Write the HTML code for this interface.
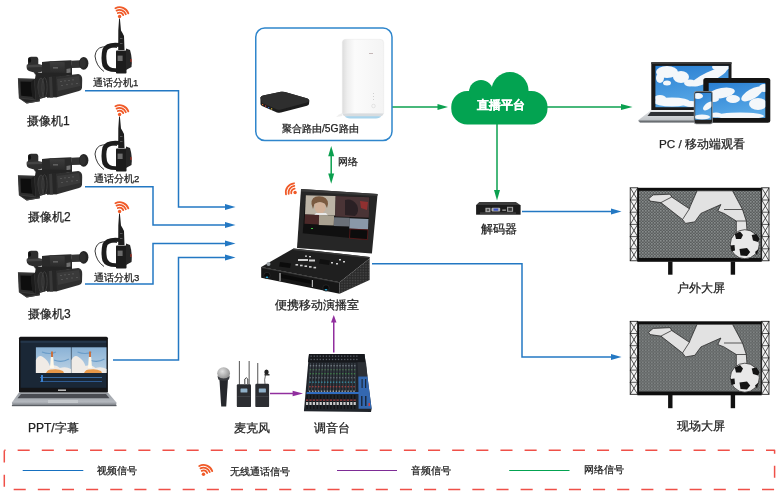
<!DOCTYPE html>
<html><head><meta charset="utf-8">
<style>
html,body{margin:0;padding:0;background:#fff;}
#c{position:relative;width:780px;height:496px;overflow:hidden;background:#fff;font-family:"Liberation Sans",sans-serif;color:#333;}
.t{position:absolute;white-space:nowrap;line-height:1;color:#222;-webkit-text-stroke:0.25px currentColor;will-change:transform;}
svg{position:absolute;left:0;top:0;}
</style></head><body>
<div id="c">

<svg width="780" height="496" viewBox="0 0 780 496" style="z-index:0">
<defs>
  <g id="wifiA" fill="none" stroke="#f05a28" stroke-width="1.8" stroke-linecap="round">
    <path d="M-1.77,-3.47 A3.9,3.9 0 0 1 3.66,-1.33 M-3.00,-5.88 A6.6,6.6 0 0 1 6.20,-2.26 M-4.22,-8.29 A9.3,9.3 0 0 1 8.74,-3.18"/>
    <circle cx="0" cy="0" r="1.7" fill="#f05a28" stroke="none"/>
  </g>
  <g id="wifiB" fill="none" stroke="#f05a28" stroke-width="1.8" stroke-linecap="round">
    <path d="M-3.81,0.81 A3.9,3.9 0 0 1 -0.48,-3.87 M-6.46,1.37 A6.6,6.6 0 0 1 -0.80,-6.55 M-9.10,1.93 A9.3,9.3 0 0 1 -1.13,-9.23"/>
    <circle cx="0" cy="0" r="1.7" fill="#f05a28" stroke="none"/>
  </g>
  <g id="cam">
    <linearGradient id="camg" x1="0" y1="0" x2="0" y2="1"><stop offset="0" stop-color="#3e3e3e"/><stop offset="1" stop-color="#262626"/></linearGradient>
    <!-- mic holder -->
    <path d="M28,58.5 Q28.5,56.8 31,56.8 L36.5,56.8 Q38,57 38.3,59 L38.3,64.3 L42.7,65 L42.7,71.5 L38,72.5 L37,74.5 L35,74.5 L34,72.5 L29,71 Q26.5,70 26.6,66.5 L26.8,64.8 L28,64.3 Z" fill="#2e2e2e"/>
    <path d="M27,65 L38.5,64.5 L42.7,65.3 L42.7,67 L27,67.5 Z" fill="#444"/>
    <ellipse cx="29.7" cy="60.4" rx="1.4" ry="2.4" fill="#0e0e0e"/>
    <!-- handle -->
    <path d="M42,62 L49.5,61.2 L71.3,60.3 L72,66 L72,74 L64.7,75.5 L50.3,74 L42,73.3 Z" fill="#2a2a2a"/>
    <path d="M49.7,61.3 L64.7,62.3 L64.7,75.3 L50.3,74 Z" fill="url(#camg)"/>
    <rect x="53" y="67.5" width="5" height="0.8" fill="#8a8a8a"/>
    <path d="M66.5,69 L70.5,68.3 L70.5,72.5 L66.5,73.2 Z" fill="#f4f4f4" opacity="0.35"/>
    <!-- viewfinder -->
    <path d="M71,60.8 L81,60.3 L81.3,67.7 L72,68 Z" fill="#333"/>
    <ellipse cx="83.7" cy="63.3" rx="4.7" ry="6.35" fill="#262626"/>
    <ellipse cx="82.8" cy="63.3" rx="3" ry="5" fill="#303030"/>
    <path d="M36,72.5 L66,73 L72,73.5 L72,75 L56,77.5 L35,79 Z" fill="#242424"/>
    <!-- body -->
    <path d="M55,76.8 L78.3,73.9 Q82.5,75 82.2,80 L82,88 Q81.5,90.5 79,91 L56.9,97.3 L54,97 Z" fill="#2f2f2f"/>
    <path d="M57,79 L79,76 L80.5,86 L58,91 Z" fill="#3a3a3a"/>
    <g fill="#5a5a5a"><rect x="60" y="81" width="2" height="0.8"/><rect x="64" y="80.5" width="2" height="0.8"/><rect x="68" y="80" width="2" height="0.8"/><rect x="72" y="79.5" width="2" height="0.8"/><rect x="61" y="85" width="2" height="0.8"/><rect x="66" y="84.3" width="2" height="0.8"/><rect x="71" y="83.6" width="2" height="0.8"/><rect x="76" y="83" width="2" height="0.8"/></g>
    <!-- grip ring -->
    <path d="M46.2,76.5 L55.9,75.8 L56.9,97.3 L47,97.8 Z" fill="#262626"/>
    <path d="M49,77 L52,76.8 L53,97.5 L50,97.6 Z" fill="#383838"/>
    <!-- lens barrel -->
    <path d="M35,78.3 L47,77.3 L47.1,96.8 L39.8,99 L35,97 Z" fill="#232323"/>
    <ellipse cx="41" cy="88" rx="3.2" ry="10" fill="#2e2e2e" stroke="#4c4c4c" stroke-width="0.6"/>
    <ellipse cx="44.5" cy="87.5" rx="2.6" ry="9.8" fill="none" stroke="#444" stroke-width="0.8"/>
    <!-- lens hood -->
    <path d="M17.9,78.3 L35,78.8 L39.8,99.2 L39.8,101.2 L26.7,103.6 L18.9,98.3 Z" fill="#252525"/>
    <path d="M18.9,98.3 L26.7,103.6 L39.8,101.2 L39.8,100.2 L26.7,102.2 Z" fill="#444"/>
    <path d="M18.5,79 L34,79.5 L35.5,100 L19.5,98 Z" fill="#2e2e2e" stroke="#4a4a4a" stroke-width="0.5"/>
    <path d="M20.5,81.5 L31,81.8 L32.2,96.8 L21.2,95.8 Z" fill="#0e0e0e"/>
    <path d="M31,81.8 L34,79.5 L35.5,100 L32.2,96.8 Z" fill="#1c1c1c"/>
  </g>
  <g id="icom">
    <path d="M119.1,18.5 L119.9,18.5 L121,30.5 L122.5,33 L124,36 L124.5,50 L118.2,50 L118.3,30.5 Z" fill="#1e1e1e"/><rect x="120" y="38" width="2.5" height="1" fill="#555"/><rect x="120" y="43" width="2.5" height="1" fill="#555"/>
    <path d="M104,71.5 Q96,66 95,56 Q96,48 102.5,47 Q110,46 117,47.5" fill="none" stroke="#222" stroke-width="0.9"/>
    <path d="M119.5,43 Q106,41.5 102.5,49 Q100.5,58 102.5,66 Q105,72 116,72 L116,68.3 Q108.5,68.5 107,63 Q105.5,55 107.5,50 Q110,47 119.5,46.8 Z" fill="#1c1c1c"/>
    <rect x="116" y="50.5" width="10.5" height="23" rx="0.8" fill="#1c1c1c"/>
    <path d="M126,48.5 L130,50 Q132.5,58 131.5,67 L126,70 Z" fill="#262626"/>
    <rect x="117.6" y="55.6" width="5" height="5.4" fill="#6a6a6a"/>
    <rect x="130.5" y="59" width="1" height="3" fill="#c03020"/>
  </g>
</defs>
<use href="#cam"/>
<use href="#cam" y="97"/>
<use href="#cam" y="194"/>
<use href="#icom"/>
<use href="#icom" y="98"/>
<use href="#icom" y="195"/>
<use href="#wifiA" x="119.6" y="16.5"/>
<use href="#wifiA" x="119.6" y="114.5"/>
<use href="#wifiA" x="119.6" y="211.5"/>
<use href="#wifiB" x="295.1" y="192.5"/>
<use href="#wifiA" x="203.5" y="474.3"/>
</svg>

<svg width="780" height="496" viewBox="0 0 780 496">
<defs>
  <linearGradient id="sky" x1="0" y1="0" x2="0" y2="1">
    <stop offset="0" stop-color="#2f7fd0"/>
    <stop offset="0.6" stop-color="#5aa3e0"/>
    <stop offset="1" stop-color="#9fd0f0"/>
  </linearGradient>
  <pattern id="dots" width="3" height="3" patternUnits="userSpaceOnUse">
    <rect width="3" height="3" fill="#5a5d5d"/>
    <rect x="0.2" y="0.2" width="1.3" height="1.3" fill="#a0a6a6"/>
    <rect x="1.7" y="1.7" width="1.3" height="1.3" fill="#7c8080"/>
  </pattern>
  <g id="scr">
    <!-- trusses -->
    <rect x="630.2" y="187.8" width="7.5" height="73" fill="#f2f2f2" stroke="#111" stroke-width="0.8"/>
    <rect x="761.7" y="187.8" width="7.3" height="73" fill="#f2f2f2" stroke="#111" stroke-width="0.8"/>
    <path d="M630.2,187.8 L637.7,200 M637.7,187.8 L630.2,200 M630.2,200 L637.7,212.2 M637.7,200 L630.2,212.2 M630.2,212.2 L637.7,224.4 M637.7,212.2 L630.2,224.4 M630.2,224.4 L637.7,236.6 M637.7,224.4 L630.2,236.6 M630.2,236.6 L637.7,248.8 M637.7,236.6 L630.2,248.8 M630.2,248.8 L637.7,260.8 M637.7,248.8 L630.2,260.8 M630.2,200 H637.7 M630.2,212.2 H637.7 M630.2,224.4 H637.7 M630.2,236.6 H637.7 M630.2,248.8 H637.7" stroke="#111" stroke-width="0.7" fill="none"/>
    <path d="M761.7,187.8 L769,200 M769,187.8 L761.7,200 M761.7,200 L769,212.2 M769,200 L761.7,212.2 M761.7,212.2 L769,224.4 M769,212.2 L761.7,224.4 M761.7,224.4 L769,236.6 M769,224.4 L761.7,236.6 M761.7,236.6 L769,248.8 M769,236.6 L761.7,248.8 M761.7,248.8 L769,260.8 M769,248.8 L761.7,260.8 M761.7,200 H769 M761.7,212.2 H769 M761.7,224.4 H769 M761.7,236.6 H769 M761.7,248.8 H769" stroke="#111" stroke-width="0.7" fill="none"/>
    <!-- frame -->
    <rect x="637.4" y="187.8" width="124.3" height="74" fill="#0e0e0e"/>
    <rect x="639" y="190.8" width="121.7" height="67.2" fill="url(#dots)"/>
    <!-- legs -->
    <rect x="668.1" y="261.5" width="4.4" height="13.2" fill="#111"/>
    <rect x="730.7" y="261.5" width="4.4" height="13.2" fill="#111"/>
    <!-- player -->
    <g fill="#e2e2e2" stroke="#1a1a1a" stroke-width="0.7" stroke-linejoin="round">
      <path d="M648.6,198.8 L653.2,194.9 L670.2,194.2 L671.7,197 L689.4,208.8 L690.2,206.5 L697.1,190.8 L732.5,190.8 L742.5,209.5 L746.3,221 L747,231 L736.3,232.6 L736.3,221 L724,213.4 L717.8,211 L720.9,204.5 L700.9,213.4 L694.8,221.8 L685.5,223.4 L682.5,219.5 L660.9,202.6 L650.2,201.1 Z"/>
      <path d="M660.9,202.6 L671.7,197 M682.5,219.5 L689.4,208.8 M724,209.5 L742.5,209.5 M736.3,221 L746.3,221" fill="none"/>
    </g>
    <circle cx="744.8" cy="244.2" r="14.5" fill="#e8e8e8" stroke="#1a1a1a" stroke-width="0.7"/>
    <g fill="#141414">
      <path d="M734.8,234 L740,231.5 L743,235 L741,239 L736,239 Z"/>
      <path d="M751.7,235 L756.5,234 L759.4,238.5 L758,242 L753,240.5 Z"/>
      <path d="M739.5,249 L747,248 L750.2,252 L747,256 L740.5,255.5 Z"/>
      <path d="M730.5,245.5 L734.5,245 L735,250.5 L731.5,251.5 Z"/>
      <path d="M755,252 L758.5,249 L757,255 Z"/>
    </g>
</g>
  <g id="mpack">
    <rect x="238.5" y="361" width="0.9" height="24" fill="#333"/>
    <rect x="236" y="383.8" width="15" height="22.2" rx="1" fill="#2c2e30"/>
    <rect x="238.5" y="388" width="9.5" height="3.5" fill="#8aa8c0"/>
    <rect x="236" y="399" width="15" height="1" fill="#3d3f42"/>
  </g>
</defs>
<!-- screens -->
<use href="#scr"/>
<use href="#scr" y="133.5"/>

<!-- switcher -->
<path d="M301,189 L377.6,193.9 L371.9,253.5 L297,248 Z" fill="#262626"/>
<path d="M301,189 L377.6,193.9 L377.3,196 L301,191.5 Z" fill="#3a3a3a"/>
<path d="M305.6,195 L370,197 L367.4,239.8 L302.7,233.3 Z" fill="#101010"/>
<path d="M305.8,195.3 L335.7,196.1 L335.2,215.5 L305,214.6 Z" fill="#bcb4a6"/>
<path d="M311.5,204 Q311,196.5 319,196.3 Q328,196.5 328,204 L327,208 L325,204 Q320,200.5 314.5,204 L313,209 Z" fill="#7a5a40"/><path d="M314.5,204 Q320,200.5 325,204 L325.5,210 L322.5,213.5 L318,213.5 L315,210 Z" fill="#d0b098"/>

<path d="M316,213 L326,213 L328,215.5 L314,215.3 Z" fill="#e8e8e8"/>
<path d="M335.7,196.1 L369.5,197.2 L368.8,217.7 L335.2,216.6 Z" fill="#4a3436"/>
<path d="M345,200 Q352,198 357,205 Q360,212 355,216 L345,215 Z" fill="#2a2024"/>
<path d="M360,201 L368,202 L367,210 L361,208 Z" fill="#903030"/>
<path d="M305,214.6 L319.1,215 L318.8,224.4 L304.5,223.8 Z" fill="#4a2828"/>
<path d="M319.1,215 L334.1,215.5 L333.8,225.5 L318.8,224.9 Z" fill="#a8a090"/>
<path d="M334.1,217.2 L349.6,217.8 L349.3,226.6 L333.8,226 Z" fill="#6a7078"/>
<path d="M349.6,218.3 L368.5,219 L368,229.4 L349.3,228.6 Z" fill="#8a98a8"/>
<path d="M350,229 L367.9,229.8 L367.4,239.6 L349.5,238.2 Z" fill="#0c0c0c" stroke="#8a2020" stroke-width="0.5"/>
<rect x="311" y="228" width="2" height="1" fill="#40c040"/>
<!-- base -->
<path d="M293.5,248.5 L369.6,256.9 L369.6,258.5 L339.6,282.3 L261.2,266.9 Z" fill="#1f1f1f"/>
<path d="M293.5,248.5 L369.6,256.9 L369,258.2 L293,250 Z" fill="#3a3a3a"/>
<path d="M261.2,266.9 L339.6,282.3 L339.6,293.8 L261.2,277.7 Z" fill="#161616"/>
<defs><pattern id="grill" width="1.6" height="1.6" patternUnits="userSpaceOnUse"><rect width="1.6" height="1.6" fill="#2a2a2a"/><rect width="0.8" height="0.8" fill="#4a4a4a"/></pattern></defs>
<path d="M339.6,282.3 L369.6,258.5 L369.6,280 L339.6,293.8 Z" fill="url(#grill)"/>
<path d="M261.2,266.9 L339.6,282.3 L339.6,283.3 L261.2,267.9 Z" fill="#3c3c3c"/>
<path d="M281,274 L312,280.5 L312,284 L281,278 Z" fill="#0a0a0a"/>
<rect x="279.4" y="273" width="1.2" height="8" fill="#b8b8b8"/>
<rect x="311.8" y="280" width="1.2" height="7" fill="#b8b8b8"/>
<circle cx="267" cy="275.5" r="3.2" fill="#0a0a0a" stroke="#3a3a3a" stroke-width="0.5"/><ellipse cx="267" cy="277.2" rx="1.4" ry="0.8" fill="#30b0e0"/>
<circle cx="326" cy="288" r="3.2" fill="#0a0a0a" stroke="#3a3a3a" stroke-width="0.5"/><ellipse cx="326" cy="289.7" rx="1.4" ry="0.8" fill="#30b0e0"/>
<circle cx="268.5" cy="264" r="2" fill="#9aa0a4"/>
<path d="M280,262 L291,263.5 L290,268 L279,266.5 Z" fill="#0c0c0c"/>
<g fill="#cfcfcf">
  <rect x="295.5" y="264" width="2.6" height="1.6"/><rect x="300" y="264.7" width="2.6" height="1.6"/><rect x="304.5" y="265.4" width="2.6" height="1.6"/><rect x="309" y="266.1" width="2.6" height="1.6"/><rect x="313.5" y="266.8" width="2.6" height="1.6"/>
  <rect x="298" y="259" width="10" height="2" /><rect x="309" y="259.5" width="6" height="2"/>
  <rect x="305" y="255.5" width="2" height="1.3"/><rect x="309" y="256" width="2" height="1.3"/>
  <rect x="331" y="262" width="2" height="1.5"/><rect x="336" y="263" width="2" height="1.5"/><rect x="339" y="259" width="2" height="1.5"/><rect x="343" y="261" width="2" height="1.5"/>
</g>
<path d="M320,259 L330,260.5 L329,265 L319,263.5 Z" fill="#101010"/>
<!-- mixer -->
<path d="M309,353.9 L364.5,353.9 L371.6,408.7 L371,412 L303.9,411.3 Z" fill="#20242a"/>
<path d="M309,353.9 L364.5,353.9 L365.6,362.3 L308,362.3 Z" fill="#16181c"/>
<g fill="#5a6068">
<rect x="310.5" y="355.5" width="1.3" height="1.3"/><rect x="310.5" y="358.8" width="1.3" height="1.3"/>
<rect x="313.6" y="355.5" width="1.3" height="1.3"/><rect x="313.6" y="358.8" width="1.3" height="1.3"/>
<rect x="316.6" y="355.5" width="1.3" height="1.3"/><rect x="316.6" y="358.8" width="1.3" height="1.3"/>
<rect x="319.6" y="355.5" width="1.3" height="1.3"/><rect x="319.6" y="358.8" width="1.3" height="1.3"/>
<rect x="322.7" y="355.5" width="1.3" height="1.3"/><rect x="322.7" y="358.8" width="1.3" height="1.3"/>
<rect x="325.8" y="355.5" width="1.3" height="1.3"/><rect x="325.8" y="358.8" width="1.3" height="1.3"/>
<rect x="328.8" y="355.5" width="1.3" height="1.3"/><rect x="328.8" y="358.8" width="1.3" height="1.3"/>
<rect x="331.9" y="355.5" width="1.3" height="1.3"/><rect x="331.9" y="358.8" width="1.3" height="1.3"/>
<rect x="334.9" y="355.5" width="1.3" height="1.3"/><rect x="334.9" y="358.8" width="1.3" height="1.3"/>
<rect x="337.9" y="355.5" width="1.3" height="1.3"/><rect x="337.9" y="358.8" width="1.3" height="1.3"/>
<rect x="341.0" y="355.5" width="1.3" height="1.3"/><rect x="341.0" y="358.8" width="1.3" height="1.3"/>
<rect x="344.1" y="355.5" width="1.3" height="1.3"/><rect x="344.1" y="358.8" width="1.3" height="1.3"/>
<rect x="347.1" y="355.5" width="1.3" height="1.3"/><rect x="347.1" y="358.8" width="1.3" height="1.3"/>
<rect x="350.1" y="355.5" width="1.3" height="1.3"/><rect x="350.1" y="358.8" width="1.3" height="1.3"/>
<rect x="353.2" y="355.5" width="1.3" height="1.3"/><rect x="353.2" y="358.8" width="1.3" height="1.3"/>
<rect x="356.2" y="355.5" width="1.3" height="1.3"/><rect x="356.2" y="358.8" width="1.3" height="1.3"/>
</g>
<g stroke="#3c444c" stroke-width="1.1">
<path d="M310.6,363 L308.5,391"/>
<path d="M313.6,363 L311.6,391"/>
<path d="M316.5,363 L314.8,391"/>
<path d="M319.5,363 L317.9,391"/>
<path d="M322.4,363 L321.0,391"/>
<path d="M325.4,363 L324.1,391"/>
<path d="M328.3,363 L327.2,391"/>
<path d="M331.2,363 L330.4,391"/>
<path d="M334.2,363 L333.5,391"/>
<path d="M337.2,363 L336.6,391"/>
<path d="M340.1,363 L339.8,391"/>
<path d="M343.1,363 L342.9,391"/>
<path d="M346.0,363 L346.0,391"/>
<path d="M349.0,363 L349.1,391"/>
<path d="M351.9,363 L352.3,391"/>
<path d="M354.9,363 L355.4,391"/>
</g>
<g>
<rect x="309.8" y="365.0" width="1.4" height="1.4" fill="#707880"/>
<rect x="309.7" y="369.0" width="1.4" height="1.4" fill="#4a6a50"/>
<rect x="309.6" y="373.0" width="1.4" height="1.4" fill="#3f7a48"/>
<rect x="309.5" y="377.0" width="1.4" height="1.4" fill="#606870"/>
<rect x="309.3" y="381.5" width="1.4" height="1.4" fill="#3a8aa0"/>
<rect x="309.2" y="386.0" width="1.4" height="1.4" fill="#a04040"/>
<rect x="309.0" y="390.5" width="1.4" height="1.4" fill="#a8a8a8"/>
<rect x="312.8" y="365.0" width="1.4" height="1.4" fill="#707880"/>
<rect x="312.7" y="369.0" width="1.4" height="1.4" fill="#4a6a50"/>
<rect x="312.5" y="373.0" width="1.4" height="1.4" fill="#3f7a48"/>
<rect x="312.4" y="377.0" width="1.4" height="1.4" fill="#606870"/>
<rect x="312.3" y="381.5" width="1.4" height="1.4" fill="#3a8aa0"/>
<rect x="312.1" y="386.0" width="1.4" height="1.4" fill="#a04040"/>
<rect x="312.0" y="390.5" width="1.4" height="1.4" fill="#a8a8a8"/>
<rect x="315.7" y="365.0" width="1.4" height="1.4" fill="#707880"/>
<rect x="315.6" y="369.0" width="1.4" height="1.4" fill="#4a6a50"/>
<rect x="315.5" y="373.0" width="1.4" height="1.4" fill="#3f7a48"/>
<rect x="315.4" y="377.0" width="1.4" height="1.4" fill="#606870"/>
<rect x="315.2" y="381.5" width="1.4" height="1.4" fill="#3a8aa0"/>
<rect x="315.1" y="386.0" width="1.4" height="1.4" fill="#a04040"/>
<rect x="314.9" y="390.5" width="1.4" height="1.4" fill="#a8a8a8"/>
<rect x="318.7" y="365.0" width="1.4" height="1.4" fill="#707880"/>
<rect x="318.6" y="369.0" width="1.4" height="1.4" fill="#4a6a50"/>
<rect x="318.4" y="373.0" width="1.4" height="1.4" fill="#3f7a48"/>
<rect x="318.3" y="377.0" width="1.4" height="1.4" fill="#606870"/>
<rect x="318.2" y="381.5" width="1.4" height="1.4" fill="#3a8aa0"/>
<rect x="318.0" y="386.0" width="1.4" height="1.4" fill="#a04040"/>
<rect x="317.9" y="390.5" width="1.4" height="1.4" fill="#a8a8a8"/>
<rect x="321.6" y="365.0" width="1.4" height="1.4" fill="#707880"/>
<rect x="321.5" y="369.0" width="1.4" height="1.4" fill="#4a6a50"/>
<rect x="321.4" y="373.0" width="1.4" height="1.4" fill="#3f7a48"/>
<rect x="321.3" y="377.0" width="1.4" height="1.4" fill="#606870"/>
<rect x="321.1" y="381.5" width="1.4" height="1.4" fill="#3a8aa0"/>
<rect x="321.0" y="386.0" width="1.4" height="1.4" fill="#a04040"/>
<rect x="320.8" y="390.5" width="1.4" height="1.4" fill="#a8a8a8"/>
<rect x="324.6" y="365.0" width="1.4" height="1.4" fill="#707880"/>
<rect x="324.5" y="369.0" width="1.4" height="1.4" fill="#4a6a50"/>
<rect x="324.3" y="373.0" width="1.4" height="1.4" fill="#3f7a48"/>
<rect x="324.2" y="377.0" width="1.4" height="1.4" fill="#606870"/>
<rect x="324.1" y="381.5" width="1.4" height="1.4" fill="#3a8aa0"/>
<rect x="323.9" y="386.0" width="1.4" height="1.4" fill="#a04040"/>
<rect x="323.8" y="390.5" width="1.4" height="1.4" fill="#a8a8a8"/>
<rect x="327.5" y="365.0" width="1.4" height="1.4" fill="#707880"/>
<rect x="327.4" y="369.0" width="1.4" height="1.4" fill="#4a6a50"/>
<rect x="327.3" y="373.0" width="1.4" height="1.4" fill="#3f7a48"/>
<rect x="327.2" y="377.0" width="1.4" height="1.4" fill="#606870"/>
<rect x="327.0" y="381.5" width="1.4" height="1.4" fill="#3a8aa0"/>
<rect x="326.9" y="386.0" width="1.4" height="1.4" fill="#a04040"/>
<rect x="326.7" y="390.5" width="1.4" height="1.4" fill="#a8a8a8"/>
<rect x="330.5" y="365.0" width="1.4" height="1.4" fill="#707880"/>
<rect x="330.4" y="369.0" width="1.4" height="1.4" fill="#4a6a50"/>
<rect x="330.2" y="373.0" width="1.4" height="1.4" fill="#3f7a48"/>
<rect x="330.1" y="377.0" width="1.4" height="1.4" fill="#606870"/>
<rect x="330.0" y="381.5" width="1.4" height="1.4" fill="#3a8aa0"/>
<rect x="329.8" y="386.0" width="1.4" height="1.4" fill="#a04040"/>
<rect x="329.7" y="390.5" width="1.4" height="1.4" fill="#a8a8a8"/>
<rect x="333.4" y="365.0" width="1.4" height="1.4" fill="#707880"/>
<rect x="333.3" y="369.0" width="1.4" height="1.4" fill="#4a6a50"/>
<rect x="333.2" y="373.0" width="1.4" height="1.4" fill="#3f7a48"/>
<rect x="333.1" y="377.0" width="1.4" height="1.4" fill="#606870"/>
<rect x="332.9" y="381.5" width="1.4" height="1.4" fill="#3a8aa0"/>
<rect x="332.8" y="386.0" width="1.4" height="1.4" fill="#a04040"/>
<rect x="332.6" y="390.5" width="1.4" height="1.4" fill="#a8a8a8"/>
<rect x="336.4" y="365.0" width="1.4" height="1.4" fill="#707880"/>
<rect x="336.3" y="369.0" width="1.4" height="1.4" fill="#4a6a50"/>
<rect x="336.1" y="373.0" width="1.4" height="1.4" fill="#3f7a48"/>
<rect x="336.0" y="377.0" width="1.4" height="1.4" fill="#606870"/>
<rect x="335.9" y="381.5" width="1.4" height="1.4" fill="#3a8aa0"/>
<rect x="335.7" y="386.0" width="1.4" height="1.4" fill="#a04040"/>
<rect x="335.6" y="390.5" width="1.4" height="1.4" fill="#a8a8a8"/>
<rect x="339.3" y="365.0" width="1.4" height="1.4" fill="#707880"/>
<rect x="339.2" y="369.0" width="1.4" height="1.4" fill="#4a6a50"/>
<rect x="339.1" y="373.0" width="1.4" height="1.4" fill="#3f7a48"/>
<rect x="339.0" y="377.0" width="1.4" height="1.4" fill="#606870"/>
<rect x="338.8" y="381.5" width="1.4" height="1.4" fill="#3a8aa0"/>
<rect x="338.7" y="386.0" width="1.4" height="1.4" fill="#a04040"/>
<rect x="338.5" y="390.5" width="1.4" height="1.4" fill="#a8a8a8"/>
<rect x="342.3" y="365.0" width="1.4" height="1.4" fill="#707880"/>
<rect x="342.2" y="369.0" width="1.4" height="1.4" fill="#4a6a50"/>
<rect x="342.0" y="373.0" width="1.4" height="1.4" fill="#3f7a48"/>
<rect x="341.9" y="377.0" width="1.4" height="1.4" fill="#606870"/>
<rect x="341.8" y="381.5" width="1.4" height="1.4" fill="#3a8aa0"/>
<rect x="341.6" y="386.0" width="1.4" height="1.4" fill="#a04040"/>
<rect x="341.5" y="390.5" width="1.4" height="1.4" fill="#a8a8a8"/>
<rect x="345.2" y="365.0" width="1.4" height="1.4" fill="#707880"/>
<rect x="345.1" y="369.0" width="1.4" height="1.4" fill="#4a6a50"/>
<rect x="345.0" y="373.0" width="1.4" height="1.4" fill="#3f7a48"/>
<rect x="344.9" y="377.0" width="1.4" height="1.4" fill="#606870"/>
<rect x="344.7" y="381.5" width="1.4" height="1.4" fill="#3a8aa0"/>
<rect x="344.6" y="386.0" width="1.4" height="1.4" fill="#a04040"/>
<rect x="344.4" y="390.5" width="1.4" height="1.4" fill="#a8a8a8"/>
<rect x="348.2" y="365.0" width="1.4" height="1.4" fill="#707880"/>
<rect x="348.1" y="369.0" width="1.4" height="1.4" fill="#4a6a50"/>
<rect x="347.9" y="373.0" width="1.4" height="1.4" fill="#3f7a48"/>
<rect x="347.8" y="377.0" width="1.4" height="1.4" fill="#606870"/>
<rect x="347.7" y="381.5" width="1.4" height="1.4" fill="#3a8aa0"/>
<rect x="347.5" y="386.0" width="1.4" height="1.4" fill="#a04040"/>
<rect x="347.4" y="390.5" width="1.4" height="1.4" fill="#a8a8a8"/>
<rect x="351.1" y="365.0" width="1.4" height="1.4" fill="#707880"/>
<rect x="351.0" y="369.0" width="1.4" height="1.4" fill="#4a6a50"/>
<rect x="350.9" y="373.0" width="1.4" height="1.4" fill="#3f7a48"/>
<rect x="350.8" y="377.0" width="1.4" height="1.4" fill="#606870"/>
<rect x="350.6" y="381.5" width="1.4" height="1.4" fill="#3a8aa0"/>
<rect x="350.5" y="386.0" width="1.4" height="1.4" fill="#a04040"/>
<rect x="350.3" y="390.5" width="1.4" height="1.4" fill="#a8a8a8"/>
<rect x="354.1" y="365.0" width="1.4" height="1.4" fill="#707880"/>
<rect x="354.0" y="369.0" width="1.4" height="1.4" fill="#4a6a50"/>
<rect x="353.8" y="373.0" width="1.4" height="1.4" fill="#3f7a48"/>
<rect x="353.7" y="377.0" width="1.4" height="1.4" fill="#606870"/>
<rect x="353.6" y="381.5" width="1.4" height="1.4" fill="#3a8aa0"/>
<rect x="353.4" y="386.0" width="1.4" height="1.4" fill="#a04040"/>
<rect x="353.3" y="390.5" width="1.4" height="1.4" fill="#a8a8a8"/>
</g>
<path d="M306.6,392 L368.9,392 L369.2,394 L306.4,394 Z" fill="#2f6cc0"/>
<path d="M357.5,362.3 L366,362.3 L367.5,376.5 L358.3,376.5 Z" fill="#2c3036"/>
<path d="M358.3,376.5 L367.5,376.5 L371.6,408.7 L358.6,408.7 Z" fill="#3468b0"/><rect x="361.5" y="379" width="1.2" height="9" fill="#1c2a3c"/><rect x="365" y="379" width="1.2" height="9" fill="#1c2a3c"/>
<g fill="#101214">
<rect x="306.5" y="395" width="1.2" height="14"/>
<rect x="309.9" y="395" width="1.2" height="14"/>
<rect x="313.3" y="395" width="1.2" height="14"/>
<rect x="316.7" y="395" width="1.2" height="14"/>
<rect x="320.1" y="395" width="1.2" height="14"/>
<rect x="323.5" y="395" width="1.2" height="14"/>
<rect x="326.9" y="395" width="1.2" height="14"/>
<rect x="330.3" y="395" width="1.2" height="14"/>
<rect x="333.7" y="395" width="1.2" height="14"/>
<rect x="337.1" y="395" width="1.2" height="14"/>
<rect x="340.5" y="395" width="1.2" height="14"/>
<rect x="343.9" y="395" width="1.2" height="14"/>
<rect x="347.3" y="395" width="1.2" height="14"/>
<rect x="350.7" y="395" width="1.2" height="14"/>
<rect x="354.1" y="395" width="1.2" height="14"/>
</g><g>
<rect x="306.0" y="399.5" width="2.2" height="1.2" fill="#b04040"/><rect x="306.0" y="402" width="2.2" height="3" fill="#c8c8c8"/>
<rect x="309.4" y="399.5" width="2.2" height="1.2" fill="#b04040"/><rect x="309.4" y="402" width="2.2" height="3" fill="#c8c8c8"/>
<rect x="312.8" y="399.5" width="2.2" height="1.2" fill="#b04040"/><rect x="312.8" y="402" width="2.2" height="3" fill="#c8c8c8"/>
<rect x="316.2" y="399.5" width="2.2" height="1.2" fill="#b04040"/><rect x="316.2" y="402" width="2.2" height="3" fill="#c8c8c8"/>
<rect x="319.6" y="399.5" width="2.2" height="1.2" fill="#b04040"/><rect x="319.6" y="402" width="2.2" height="3" fill="#c8c8c8"/>
<rect x="323.0" y="399.5" width="2.2" height="1.2" fill="#b04040"/><rect x="323.0" y="402" width="2.2" height="3" fill="#c8c8c8"/>
<rect x="326.4" y="399.5" width="2.2" height="1.2" fill="#b04040"/><rect x="326.4" y="402" width="2.2" height="3" fill="#c8c8c8"/>
<rect x="329.8" y="399.5" width="2.2" height="1.2" fill="#b04040"/><rect x="329.8" y="402" width="2.2" height="3" fill="#c8c8c8"/>
<rect x="333.2" y="399.5" width="2.2" height="1.2" fill="#b04040"/><rect x="333.2" y="402" width="2.2" height="3" fill="#c8c8c8"/>
<rect x="336.6" y="399.5" width="2.2" height="1.2" fill="#b04040"/><rect x="336.6" y="402" width="2.2" height="3" fill="#c8c8c8"/>
<rect x="340.0" y="399.5" width="2.2" height="1.2" fill="#b04040"/><rect x="340.0" y="402" width="2.2" height="3" fill="#c8c8c8"/>
<rect x="343.4" y="399.5" width="2.2" height="1.2" fill="#b04040"/><rect x="343.4" y="402" width="2.2" height="3" fill="#c8c8c8"/>
<rect x="346.8" y="399.5" width="2.2" height="1.2" fill="#b04040"/><rect x="346.8" y="402" width="2.2" height="3" fill="#c8c8c8"/>
<rect x="350.2" y="399.5" width="2.2" height="1.2" fill="#b04040"/><rect x="350.2" y="402" width="2.2" height="3" fill="#c8c8c8"/>
<rect x="353.6" y="399.5" width="2.2" height="1.2" fill="#b04040"/><rect x="353.6" y="402" width="2.2" height="3" fill="#c8c8c8"/>
</g>
<rect x="361" y="396" width="1.5" height="10" fill="#1a2a40"/><rect x="365" y="396" width="1.5" height="10" fill="#1a2a40"/><rect x="368.5" y="403" width="1.5" height="3" fill="#d04040"/>
<!-- mics -->
<defs><radialGradient id="mesh" cx="0.4" cy="0.35" r="0.7"><stop offset="0" stop-color="#e0e0e0"/><stop offset="1" stop-color="#8a8a8a"/></radialGradient></defs>
<path d="M219.4,379 L228,379 L226.2,406.6 L221.2,406.6 Z" fill="#26282c"/>
<ellipse cx="223.6" cy="373.2" rx="6.4" ry="6" fill="url(#mesh)"/>
<path d="M217.5,376 Q223.6,381 229.8,376 L229,379.5 Q223.6,382 218.3,379.5 Z" fill="#3a3c40"/>
<rect x="238.9" y="361" width="0.8" height="24" fill="#2a2a2a"/>
<rect x="248.7" y="361" width="0.8" height="24" fill="#2a2a2a"/>
<path d="M244.8,384 L244.8,379 Q246.3,376.5 247.8,379 L247.8,384" fill="none" stroke="#2a2a2a" stroke-width="0.9"/>
<rect x="236.8" y="384.3" width="14.2" height="22.8" rx="1.2" fill="#2c2e32"/>
<rect x="240.5" y="388.6" width="6.9" height="3.9" rx="0.5" fill="#8fb0c8"/>
<rect x="237.5" y="396" width="12.8" height="0.8" fill="#44474c"/>
<rect x="257.4" y="363" width="0.8" height="21" fill="#2a2a2a"/>
<path d="M265.5,375 Q264,380 265,384" fill="none" stroke="#2a2a2a" stroke-width="0.7"/>
<ellipse cx="266.5" cy="372" rx="2.2" ry="2.5" fill="#222"/>
<rect x="264.5" y="374" width="5" height="1.5" fill="#333"/>
<rect x="255.3" y="383.7" width="13.8" height="23.4" rx="1.2" fill="#2c2e32"/>
<rect x="258.8" y="388.6" width="7.1" height="3.9" rx="0.5" fill="#8fb0c8"/>
<rect x="256" y="396" width="12.4" height="0.8" fill="#44474c"/>
<!-- PPT laptop -->
<defs>
  <linearGradient id="rocketsky" x1="0" y1="0" x2="0" y2="1"><stop offset="0" stop-color="#8ab2d6"/><stop offset="1" stop-color="#bcd2e4"/></linearGradient>
  <linearGradient id="pptbase" x1="0" y1="0" x2="0" y2="1"><stop offset="0" stop-color="#9a9ea4"/><stop offset="0.7" stop-color="#b4b8be"/><stop offset="1" stop-color="#6e7278"/></linearGradient>
</defs>
<rect x="19" y="336.7" width="88.9" height="56" rx="1.5" fill="#141416"/>
<rect x="20.6" y="340.7" width="85.7" height="47.1" fill="#1a2736"/>
<rect x="20.6" y="340.7" width="85.7" height="2.2" fill="#24364a"/>
<rect x="35.9" y="347.3" width="35" height="25.6" fill="url(#rocketsky)"/>
<path d="M41.9,352 Q49.9,355 55.9,352 M53.9,360 Q61.9,363 68.9,359" stroke="#6a9cc8" stroke-width="1.2" fill="none"/>
<path d="M35.9,372.9 L35.9,360 Q38.9,354 42.9,357 Q47.9,360 49.9,366 Q55.9,364 59.9,368 Q65.9,366 70.9,369 L70.9,372.9 Z" fill="#f0ebe6"/>
<path d="M46.0,372.9 Q48.0,369 52,369.5 Q58,368.5 63.0,371 L64.0,372.9 Z" fill="#e89848"/>
<rect x="51.1" y="351.5" width="1.8" height="5.5" fill="#d06a30"/>
<path d="M50.8,357 L53.2,357 L54,368 L50,368 Z" fill="#fff8e8"/>
<rect x="71.5" y="347.3" width="35" height="25.6" fill="url(#rocketsky)"/>
<path d="M77.5,352 Q85.5,355 91.5,352 M89.5,360 Q97.5,363 104.5,359" stroke="#6a9cc8" stroke-width="1.2" fill="none"/>
<path d="M71.5,372.9 L71.5,360 Q74.5,354 78.5,357 Q83.5,360 85.5,366 Q91.5,364 95.5,368 Q101.5,366 106.5,369 L106.5,372.9 Z" fill="#f0ebe6"/>
<path d="M84.0,372.9 Q86.0,369 90,369.5 Q96,368.5 101.0,371 L102.0,372.9 Z" fill="#e89848"/>
<rect x="89.1" y="351.5" width="1.8" height="5.5" fill="#d06a30"/>
<path d="M88.8,357 L91.2,357 L92,368 L88,368 Z" fill="#fff8e8"/>
<rect x="40" y="377" width="62" height="1" fill="#3a6aa0"/>
<rect x="40" y="381" width="62" height="1" fill="#2e5a90"/>
<rect x="41" y="375" width="2" height="7" fill="#3a80d0"/>
<rect x="58" y="389.5" width="8" height="1.4" fill="#c8c8c8"/>
<path d="M19,392.6 L107.9,392.6 L116.5,402.5 L116,406 L12.5,406 L11.9,402.5 Z" fill="url(#pptbase)"/>
<path d="M21,394 L106,394 L109.5,398.2 L17.5,398.2 Z" fill="#4a4c52"/>
<rect x="48" y="400" width="30" height="3" fill="#c4c8cc"/>
<rect x="11.9" y="405" width="104.6" height="1.2" fill="#5a5e64"/>
<!-- router box contents -->
<defs><linearGradient id="wr" x1="0" y1="0" x2="1" y2="0"><stop offset="0" stop-color="#dcdcdc"/><stop offset="0.12" stop-color="#eeeeee"/><stop offset="0.3" stop-color="#fbfbfb"/><stop offset="1" stop-color="#f4f4f4"/></linearGradient></defs>
<path d="M260.4,97.5 Q261,96 263,95.6 L281,91.8 Q283,91.4 285,92 L307.5,98.5 Q309.5,99.5 309.3,101 L309,104 Q308.8,105 307,105.8 L281,112.6 Q279,113 277,112.4 L262,106 Q260.5,105.2 260.5,104 Z" fill="#1c1c1c"/>
<path d="M260.4,97.5 Q261,96 263,95.6 L281,91.8 Q283,91.4 285,92 L307.5,98.5 Q309.5,99.5 309.3,101 L307,102.5 L281,109.5 Q279,110 277,109.4 L262,103 Z" fill="#2e2e2e"/>
<g><rect x="262" y="104" width="1.2" height="1.2" fill="#e07030"/><rect x="265" y="105.5" width="1.2" height="1.2" fill="#d04040"/><rect x="268" y="107" width="1.2" height="1.2" fill="#4070d0"/><rect x="271" y="108.3" width="1.2" height="1.2" fill="#e0c040"/></g>
<path d="M342.3,42.5 Q342.5,39.3 346,39.3 L380,39.3 Q383.5,39.3 383.7,42.5 L383.7,113.5 L342.3,113.5 Z" fill="url(#wr)" stroke="#e6e6e6" stroke-width="0.5"/>
<path d="M342.3,113.5 L383.7,113.5 Q383,116.5 378,117 L348,117 Q343,116.5 342.3,113.5 Z" fill="#d8dcdf"/>
<path d="M345,116.2 L381,116.2 Q380,118.3 376,118.5 L350,118.5 Q346,118.3 345,116.2 Z" fill="#a8d4ec"/>
<path d="M336,117 Q339,114 342.3,113 L342.3,116 Z" fill="#eeeeee"/>
<rect x="369" y="53" width="4" height="0.8" fill="#b8a8a8"/>
<circle cx="373.5" cy="106" r="1.8" fill="none" stroke="#c8c8c8" stroke-width="0.4"/>
<rect x="373" y="93" width="0.8" height="0.8" fill="#bbb"/><rect x="373" y="96" width="0.8" height="0.8" fill="#bbb"/><rect x="373" y="99" width="0.8" height="0.8" fill="#bbb"/>
<!-- decoder -->
<path d="M479.3,202.1 L515.9,202.1 L520.3,205 L476.1,205 Z" fill="#3c3c3c"/>
<rect x="476.1" y="205" width="44.5" height="9.7" fill="#1c1c1c"/>
<rect x="485.4" y="207.8" width="5" height="4.4" fill="#a8a8a8"/><circle cx="487.9" cy="210" r="1.3" fill="#555"/>
<rect x="491.5" y="207.8" width="8.7" height="3.6" rx="1" fill="#b0b0b0"/><rect x="493.5" y="208.5" width="4.7" height="2.2" fill="#3a50c0"/>
<rect x="502.3" y="209.4" width="3.6" height="1.6" fill="#888"/>
<rect x="507" y="206.8" width="6.1" height="5" fill="#a0a0a0"/><rect x="508.2" y="207.8" width="3.7" height="3" fill="#333"/>
<rect x="480" y="212.7" width="36" height="0.7" fill="#666"/>
<!-- PC group -->
<defs>
  <filter id="soft" x="-20%" y="-20%" width="140%" height="140%"><feGaussianBlur stdDeviation="0.7"/></filter>
  <linearGradient id="sky2" x1="0" y1="0" x2="0.3" y2="1"><stop offset="0" stop-color="#2a7fd2"/><stop offset="1" stop-color="#58a8e6"/></linearGradient>
  <clipPath id="lapclip"><rect x="655.4" y="65.9" width="73.1" height="41.3"/></clipPath>
  <clipPath id="tabclip"><rect x="708.7" y="82.9" width="56.6" height="35"/></clipPath>
  <clipPath id="phclip"><rect x="695.2" y="92.8" width="16.2" height="26.9"/></clipPath>
  <linearGradient id="silver" x1="0" y1="0" x2="0" y2="1">
    <stop offset="0" stop-color="#e4e6e8"/><stop offset="1" stop-color="#b8bcc0"/>
  </linearGradient>
</defs>
<path d="M651.3,62.3 L731.5,62.3 L731.5,110 L651.3,110 Z" fill="#1a1a1a"/>
<path d="M651.3,62.3 L731.5,62.3 L731.5,64 L651.3,64 Z" fill="#3a3a3a"/>
<rect x="655.4" y="65.9" width="73.1" height="41.3" fill="url(#sky2)"/>
<g clip-path="url(#lapclip)"><g fill="#f4f7fa" filter="url(#soft)">
  <ellipse cx="667" cy="72" rx="11" ry="6"/><ellipse cx="681" cy="77" rx="8" ry="6"/><ellipse cx="690" cy="83" rx="6" ry="3.5"/><ellipse cx="667" cy="83" rx="4" ry="2.5"/><ellipse cx="660" cy="78" rx="4" ry="5"/>
  <ellipse cx="709" cy="77" rx="20" ry="5" transform="rotate(-25 709 77)"/><ellipse cx="721" cy="67" rx="9" ry="4"/>
  <ellipse cx="672" cy="102" rx="18" ry="4.5"/><ellipse cx="691" cy="104" rx="8" ry="3"/><ellipse cx="660" cy="98" rx="6" ry="3"/>
</g></g>
<path d="M651,110.3 L700,110.3 L700,122.4 L640,122.4 Q637.5,121.5 638.5,120 Z" fill="url(#silver)"/>
<path d="M650.6,112 L700,112 L700,116.1 L647.5,116.1 Z" fill="#2e3034"/>
<path d="M638.5,120.5 L700,120.5 L700,122.6 L640,122.6 Z" fill="#6a6e72"/>

<rect x="703.3" y="77.9" width="67" height="44.9" rx="2.5" fill="#141414"/>
<rect x="708.7" y="82.9" width="56.6" height="35" fill="url(#sky2)"/>
<g clip-path="url(#tabclip)"><g fill="#f4f7fa" filter="url(#soft)">
  <ellipse cx="722" cy="93" rx="13" ry="5" transform="rotate(-10 722 93)"/><ellipse cx="733" cy="99" rx="7" ry="4"/><ellipse cx="714" cy="99" rx="5" ry="3"/>
  <ellipse cx="752" cy="94" rx="12" ry="5" transform="rotate(-30 752 94)"/><ellipse cx="758" cy="104" rx="9" ry="6"/><ellipse cx="764" cy="88" rx="5" ry="4"/>
  <ellipse cx="740" cy="116" rx="24" ry="3.5"/><ellipse cx="716" cy="115" rx="6" ry="2.5"/>
</g></g>
<rect x="693.8" y="91" width="19" height="33.2" rx="2.5" fill="#8a8e92"/>
<rect x="694.6" y="91.8" width="17.4" height="31.6" rx="2" fill="#222"/>
<rect x="695.2" y="92.8" width="16.2" height="26.9" fill="url(#sky2)"/>
<g clip-path="url(#phclip)"><g fill="#f4f7fa" filter="url(#soft)">
  <ellipse cx="698" cy="96" rx="5" ry="3"/><ellipse cx="708" cy="106" rx="6" ry="3" transform="rotate(-40 708 106)"/><ellipse cx="702" cy="117" rx="8" ry="2.5"/>
</g></g>
</svg>
<svg width="780" height="496" viewBox="0 0 780 496">
  <!-- blue lines -->
  <g fill="none" stroke="#2378c3" stroke-width="1.5">
    <path d="M85,90.8 H178.5 V207 H226"/>
    <path d="M85,186.7 H153 V225 H226"/>
    <path d="M85,284 H153 V243.5 H226"/>
    <path d="M113,360 H178.5 V257.5 H226"/>
    <path d="M372,263.75 H522 V357 H612"/>
    <path d="M522,211.5 H612"/>
  </g>
  <g fill="#2378c3">
    <path d="M225,204 L235.5,207 L225,210 Z"/>
    <path d="M225,222 L235.5,225 L225,228 Z"/>
    <path d="M225,240.5 L235.5,243.5 L225,246.5 Z"/>
    <path d="M225,254.5 L235.5,257.5 L225,260.5 Z"/>
    <path d="M611,354 L621.5,357 L611,360 Z"/>
    <path d="M611,208.5 L621.5,211.5 L611,214.5 Z"/>
  </g>
  <!-- green lines -->
  <g fill="none" stroke="#0ba04f" stroke-width="1.5">
    <path d="M392,107 H438"/>
    <path d="M547,107 H622"/>
    <path d="M497,124 V191"/>
    <path d="M331.2,155 V175"/>
  </g>
  <g fill="#0ba04f">
    <path d="M437.5,104 L448,107 L437.5,110 Z"/>
    <path d="M621,104 L632.5,107 L621,110 Z"/>
    <path d="M494,190 L497,200.5 L500,190 Z"/>
    <path d="M328.2,156.2 L331.2,146 L334.2,156.2 Z"/>
    <path d="M328.2,173.5 L331.2,183.7 L334.2,173.5 Z"/>
  </g>
  <!-- purple -->
  <g fill="none" stroke="#912e9e" stroke-width="1.5">
    <path d="M270,393.5 H293"/>
    <path d="M333.75,352.5 V322"/>
  </g>
  <g fill="#912e9e">
    <path d="M292.6,390.8 L303,393.5 L292.6,396.2 Z"/>
    <path d="M331,322.5 L333.75,315 L336.5,322.5 Z"/>
  </g>
  <!-- router box -->
  <rect x="255.75" y="28" width="136.25" height="112.5" rx="9" fill="none" stroke="#2f86cc" stroke-width="1.5"/>
  <!-- cloud -->
  <g fill="#03a351">
    <rect x="451.25" y="91" width="96.25" height="33.5" rx="16"/>
    <circle cx="481" cy="92" r="12"/>
    <circle cx="510" cy="90.5" r="18.5"/>
  </g>
<g stroke-width="1.2" fill="none">
  <path d="M22.7,470.5 H83.3" stroke="#1670c0"/>
  <path d="M337,470.5 H397" stroke="#7e2c96"/>
  <path d="M509.2,470.5 H569.5" stroke="#03a351"/>
</g>
  <!-- legend dashed -->
  <path d="M4.3,450.25 H774.6 V489.4 H4.3 Z" fill="none" stroke="#ef5048" stroke-width="1.5" stroke-linejoin="round" stroke-dasharray="12.07 12.07" stroke-dashoffset="10.8"/>
</svg>

<div class="t" style="left:27.2px;top:115.0px;font-size:12px">摄像机1</div>
<div class="t" style="left:27.5px;top:211.0px;font-size:12px">摄像机2</div>
<div class="t" style="left:27.5px;top:307.5px;font-size:12px">摄像机3</div>
<div class="t" style="left:93.2px;top:77.9px;font-size:9.6px">通话分机1</div>
<div class="t" style="left:94.3px;top:174.2px;font-size:9.6px">通话分机2</div>
<div class="t" style="left:94.3px;top:272.5px;font-size:9.6px">通话分机3</div>
<div class="t" style="left:27.6px;top:422.4px;font-size:12px">PPT/字幕</div>
<div class="t" style="left:282.1px;top:124.1px;font-size:10.3px">聚合路由/5G路由</div>
<div class="t" style="left:337.8px;top:157.2px;font-size:9.6px">网络</div>
<div class="t" style="left:477.4px;top:99.0px;font-size:12px;font-weight:bold;color:#fff">直播平台</div>
<div class="t" style="left:658.5px;top:138.3px;font-size:11.7px">PC / 移动端观看</div>
<div class="t" style="left:481.2px;top:223.7px;font-size:11.8px">解码器</div>
<div class="t" style="left:274.6px;top:299.8px;font-size:11.5px">便携移动演播室</div>
<div class="t" style="left:677.4px;top:282.4px;font-size:11.7px">户外大屏</div>
<div class="t" style="left:677.2px;top:420.2px;font-size:11.6px">现场大屏</div>
<div class="t" style="left:233.5px;top:422.2px;font-size:12px">麦克风</div>
<div class="t" style="left:313.8px;top:422.8px;font-size:11.8px">调音台</div>
<div class="t" style="left:97.0px;top:466.4px;font-size:10px">视频信号</div>
<div class="t" style="left:230.0px;top:466.6px;font-size:10px">无线通话信号</div>
<div class="t" style="left:411.0px;top:466.4px;font-size:10px">音频信号</div>
<div class="t" style="left:584.2px;top:465.4px;font-size:10px">网络信号</div>
</div>
</body></html>
